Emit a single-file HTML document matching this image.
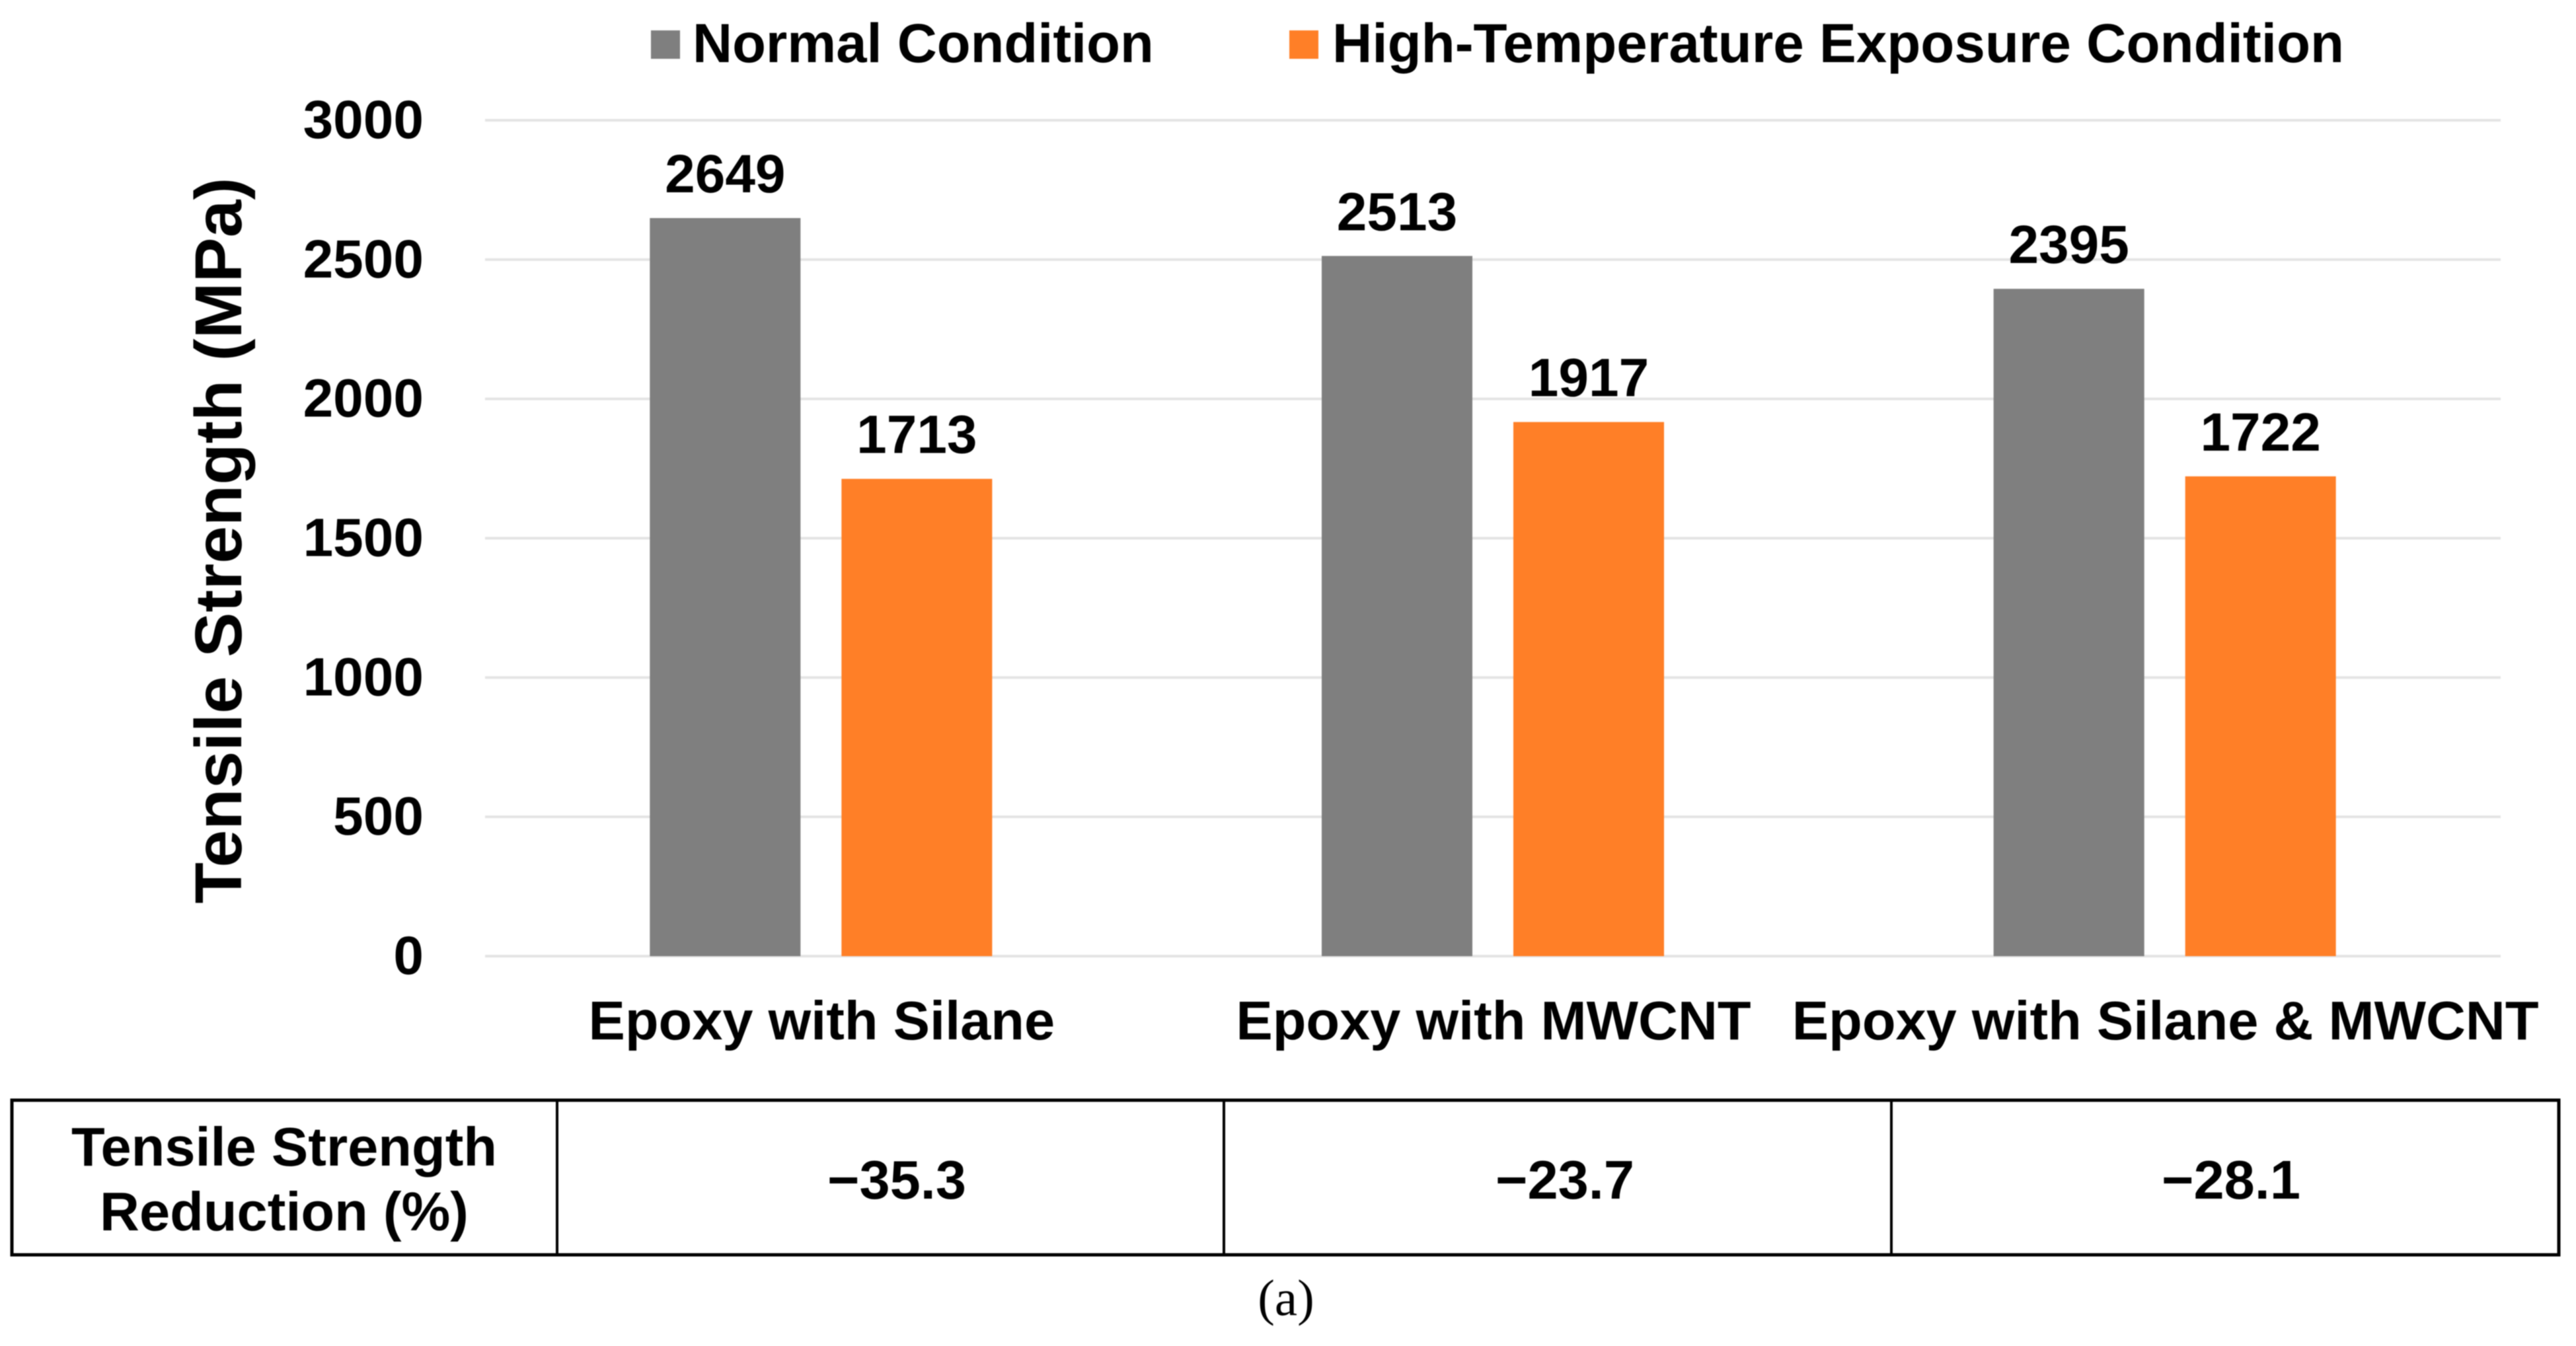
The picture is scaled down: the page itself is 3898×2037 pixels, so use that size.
<!DOCTYPE html>
<html lang="en">
<head>
<meta charset="utf-8">
<title>Tensile Strength Chart</title>
<style>
html,body{margin:0;padding:0;background:#fff;width:3898px;height:2037px;overflow:hidden}
svg{display:block;filter:blur(0.8px)}
text{font-family:"Liberation Sans",sans-serif;font-weight:bold;fill:#000}
</style>
</head>
<body>
<svg id="chart" xmlns="http://www.w3.org/2000/svg" width="3898" height="2037" viewBox="0 0 3898 2037">
<rect x="0" y="0" width="3898" height="2037" fill="#fff"/>
<g id="grid"></g>
<g id="bars"></g>
<g id="ticks"></g>
<g id="labels"></g>
<g id="cats"></g>
<text transform="translate(365,818) rotate(-90)" text-anchor="middle" font-size="100" textLength="1099" lengthAdjust="spacingAndGlyphs">Tensile Strength (MPa)</text>
<rect x="985" y="46" width="44" height="43" fill="#7f7f7f"/>
<text x="1048" y="94" font-size="83.2">Normal Condition</text>
<rect x="1951" y="46" width="44" height="43" fill="#ff7f27"/>
<text x="2016" y="94" font-size="83.6">High-Temperature Exposure Condition</text>
<g id="table"></g>
<text x="1946" y="1990" text-anchor="middle" font-size="77" style="font-family:'Liberation Serif',serif;font-weight:normal">(a)</text>
</svg>
<script>
var categories = ["Epoxy with Silane", "Epoxy with MWCNT", "Epoxy with Silane & MWCNT"];
var normalValues = [2649, 2513, 2395];
var highTempValues = [1713, 1917, 1722];
var yTicks = [0, 500, 1000, 1500, 2000, 2500, 3000];
var reductionLabels = ["\u221235.3", "\u221223.7", "\u221228.1"];

var NS = "http://www.w3.org/2000/svg";
var plotLeft = 734, plotRight = 3784, plotTop = 182, plotBottom = 1447, yMax = 3000;
var barWidth = 228, barGap = 62;

function yScale(v) { return plotBottom - (v / yMax) * (plotBottom - plotTop); }
function xCenter(i) { return plotLeft + (i + 0.5) * (plotRight - plotLeft) / categories.length; }
function make(tag, parent, attrs, txt) {
  var el = document.createElementNS(NS, tag);
  for (var k in attrs) { el.setAttribute(k, attrs[k]); }
  if (txt !== undefined) { el.textContent = txt; }
  document.getElementById(parent).appendChild(el);
  return el;
}

yTicks.forEach(function (t) {
  var line = make("rect", "grid", { x: plotLeft, y: yScale(t) - 2, width: plotRight - plotLeft, height: 4, fill: "#e4e4e4" });
  
  
  var label = make("text", "ticks", { x: 641, y: yScale(t) + 27, "text-anchor": "end", "font-size": 82 }, String(t));
  
  
});

categories.forEach(function (c, i) {
  var cx = xCenter(i);
  var nTop = yScale(normalValues[i]);
  var hTop = yScale(highTempValues[i]);
  var nBar = make("rect", "bars", { x: cx - barGap / 2 - barWidth, y: nTop, width: barWidth, height: plotBottom - nTop, fill: "#7f7f7f" });
  
  
  var hBar = make("rect", "bars", { x: cx + barGap / 2, y: hTop, width: barWidth, height: plotBottom - hTop, fill: "#ff7f27" });
  
  
  var nLab = make("text", "labels", { x: cx - barGap / 2 - barWidth / 2, y: nTop - 39, "text-anchor": "middle", "font-size": 82 }, String(normalValues[i]));
  
  
  var hLab = make("text", "labels", { x: cx + barGap / 2 + barWidth / 2, y: hTop - 39, "text-anchor": "middle", "font-size": 82 }, String(highTempValues[i]));
  
  
});

categories.forEach(function (c, i) {
  var cat = make("text", "cats", { x: xCenter(i) + 1, y: 1573, "text-anchor": "middle", "font-size": 83 }, c);
  
  
});

var tableLeft = 18, tableRight = 3872, tableTop = 1665, tableBottom = 1899;
var colLines = [843, 1852, 2862];
var outer = make("rect", "table", { x: tableLeft, y: tableTop, width: tableRight - tableLeft, height: tableBottom - tableTop, fill: "none", stroke: "#000", "stroke-width": 5 });


colLines.forEach(function (x) {
  var v = make("line", "table", { x1: x, x2: x, y1: tableTop, y2: tableBottom, stroke: "#000", "stroke-width": 4 });
  
  
});
var h1 = make("text", "table", { x: 430, y: 1764, "text-anchor": "middle", "font-size": 83 }, "Tensile Strength");


var h2 = make("text", "table", { x: 430, y: 1862, "text-anchor": "middle", "font-size": 83 }, "Reduction (%)");


var cellX = [1357, 2368, 3376];
reductionLabels.forEach(function (r, i) {
  var cell = make("text", "table", { x: cellX[i], y: 1814, "text-anchor": "middle", "font-size": 83 }, r);
  
  
});
</script>
</body>
</html>
